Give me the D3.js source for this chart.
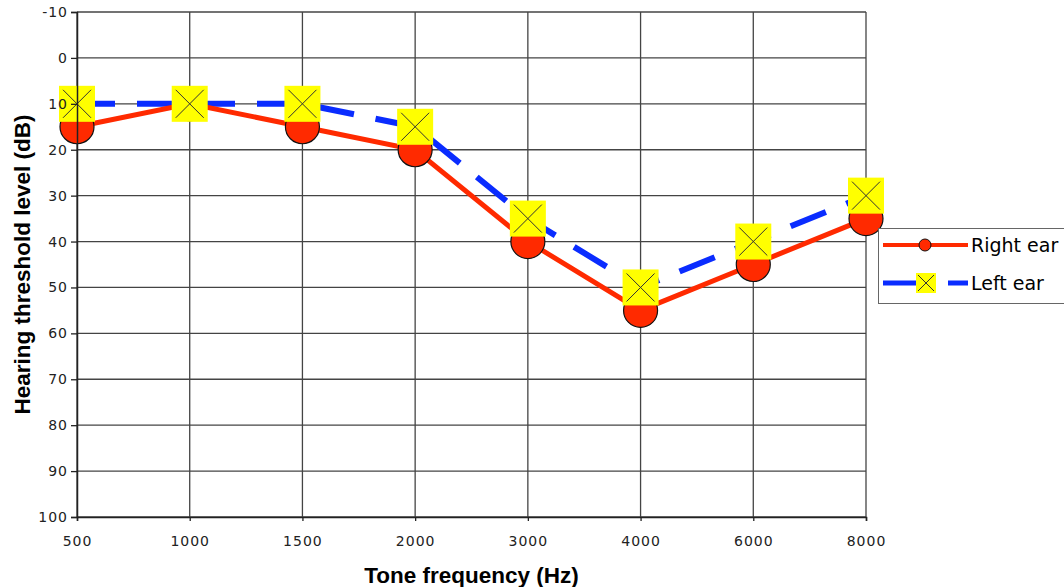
<!DOCTYPE html>
<html>
<head>
<meta charset="utf-8">
<script src="https://cdn.jsdelivr.net/npm/d3@7"></script>
<style>
  body { margin: 0; background: #fff; }
  text { font-family: "DejaVu Sans", Verdana, sans-serif; }
</style>
</head>
<body>
<div id="chart"></div>
<script>
// chart data
var frequencies = ["500", "1000", "1500", "2000", "3000", "4000", "6000", "8000"];
var rightEar = [15, 10, 15, 20, 40, 55, 45, 35];
var leftEar = [10, 10, 10, 15, 35, 50, 40, 30];
var yTicks = [-10, 0, 10, 20, 30, 40, 50, 60, 70, 80, 90, 100];

var margin = {top: 12, right: 198, bottom: 70, left: 77},
    width = 1064 - margin.left - margin.right,
    height = 587 - margin.top - margin.bottom;

var svg = d3.select("#chart")
  .append("svg")
  .attr("width", 1064)
  .attr("height", 587);

var g = svg.append("g")
  .attr("transform", "translate(" + margin.left + "," + margin.top + ")");

var xScale = d3.scalePoint()
  .domain(frequencies)
  .range([0, width]);

var yScale = d3.scaleLinear()
  .domain([-10, 100])
  .range([0, height]);

// gridlines
g.append("g")
  .selectAll("line")
  .data(yTicks)
  .enter()
  .append("line")
  .attr("x1", 0)
  .attr("x2", width)
  .attr("y1", function(d) { return yScale(d); })
  .attr("y2", function(d) { return yScale(d); })
  .attr("stroke", "#444")
  .attr("stroke-width", 1.3);

g.append("g")
  .selectAll("line")
  .data(frequencies)
  .enter()
  .append("line")
  .attr("x1", function(d) { return xScale(d); })
  .attr("x2", function(d) { return xScale(d); })
  .attr("y1", 0)
  .attr("y2", height)
  .attr("stroke", "#444")
  .attr("stroke-width", 1.3);

// lines
var line = d3.line()
  .x(function(d, i) { return xScale(frequencies[i]); })
  .y(function(d) { return yScale(d); });

g.append("path")
  .datum(leftEar)
  .attr("d", line)
  .attr("fill", "none")
  .attr("stroke", "#0a2cff")
  .attr("stroke-width", 6)
  .attr("stroke-dasharray", "38,22");

g.append("path")
  .datum(rightEar)
  .attr("d", line)
  .attr("fill", "none")
  .attr("stroke", "#ff2a00")
  .attr("stroke-width", 5);

// markers
g.append("g")
  .selectAll("circle")
  .data(rightEar)
  .enter()
  .append("circle")
  .attr("cx", function(d, i) { return xScale(frequencies[i]); })
  .attr("cy", function(d) { return yScale(d); })
  .attr("r", 17)
  .attr("fill", "#ff2a00")
  .attr("stroke", "#111")
  .attr("stroke-width", 1.2);

var sq = 36;
var leftMarks = g.append("g")
  .selectAll("g")
  .data(leftEar)
  .enter()
  .append("g")
  .attr("transform", function(d, i) {
    return "translate(" + xScale(frequencies[i]) + "," + yScale(d) + ")";
  });

leftMarks.append("rect")
  .attr("x", -sq / 2)
  .attr("y", -sq / 2)
  .attr("width", sq)
  .attr("height", sq)
  .attr("fill", "#ffff00");

leftMarks.append("path")
  .attr("d", "M-14,-14L14,14M14,-14L-14,14")
  .attr("stroke", "#333")
  .attr("stroke-width", 1);

// axes (drawn on top, like the original where "10" sits over the marker)
var yAxis = d3.axisLeft(yScale)
  .tickValues(yTicks)
  .tickFormat(function(d) { return String(d); })
  .tickSize(6)
  .tickPadding(3);
var xAxis = d3.axisBottom(xScale).tickSize(4).tickPadding(15);

var yg = g.append("g").call(yAxis);
yg.select(".domain").attr("stroke", "#222").attr("stroke-width", 1.5);
yg.selectAll(".tick line").attr("stroke", "#222").attr("stroke-width", 1.3);
yg.selectAll("text")
  .attr("font-size", 14)
  .attr("letter-spacing", 1)
  .attr("fill", "#222");

var xg = g.append("g")
  .attr("transform", "translate(0," + height + ")")
  .call(xAxis);
xg.select(".domain").attr("stroke", "#222").attr("stroke-width", 1.5);
xg.selectAll(".tick line").attr("stroke", "#222").attr("stroke-width", 1.3);
xg.selectAll("text")
  .attr("font-size", 14)
  .attr("letter-spacing", 1)
  .attr("fill", "#222");

// axis titles
svg.append("text")
  .attr("x", margin.left + width / 2)
  .attr("y", 583)
  .attr("text-anchor", "middle")
  .attr("font-size", 22.5)
  .attr("font-weight", "bold")
  .style("font-family", "'Liberation Sans', Arial, sans-serif")
  .text("Tone frequency (Hz)");

svg.append("text")
  .attr("transform", "translate(30," + (margin.top + height / 2) + ") rotate(-90)")
  .attr("text-anchor", "middle")
  .attr("font-size", 22.5)
  .attr("font-weight", "bold")
  .style("font-family", "'Liberation Sans', Arial, sans-serif")
  .text("Hearing threshold level (dB)");

// legend
var legend = svg.append("g").attr("transform", "translate(878,228)");

legend.append("rect")
  .attr("x", 0.5)
  .attr("y", 0.5)
  .attr("width", 190)
  .attr("height", 75)
  .attr("fill", "#fff")
  .attr("stroke", "#666")
  .attr("stroke-width", 1);

legend.append("line")
  .attr("x1", 5).attr("x2", 90)
  .attr("y1", 17).attr("y2", 17)
  .attr("stroke", "#ff2a00")
  .attr("stroke-width", 4);
legend.append("circle")
  .attr("cx", 47).attr("cy", 17).attr("r", 6)
  .attr("fill", "#ff2a00")
  .attr("stroke", "#111")
  .attr("stroke-width", 1);
legend.append("text")
  .attr("x", 93).attr("y", 24)
  .attr("font-size", 19)
  .attr("font-family", "Arial, 'Liberation Sans', sans-serif")
  .text("Right ear");

legend.append("line")
  .attr("x1", 5).attr("x2", 90)
  .attr("y1", 55).attr("y2", 55)
  .attr("stroke", "#0a2cff")
  .attr("stroke-width", 5)
  .attr("stroke-dasharray", "48,17");
legend.append("rect")
  .attr("x", 38).attr("y", 45)
  .attr("width", 20).attr("height", 20)
  .attr("fill", "#ffff00");
legend.append("path")
  .attr("d", "M40,47L56,63M56,47L40,63")
  .attr("stroke", "#333")
  .attr("stroke-width", 1);
legend.append("text")
  .attr("x", 93).attr("y", 62)
  .attr("font-size", 19)
  .attr("font-family", "Arial, 'Liberation Sans', sans-serif")
  .text("Left ear");
</script>
</body>
</html>
